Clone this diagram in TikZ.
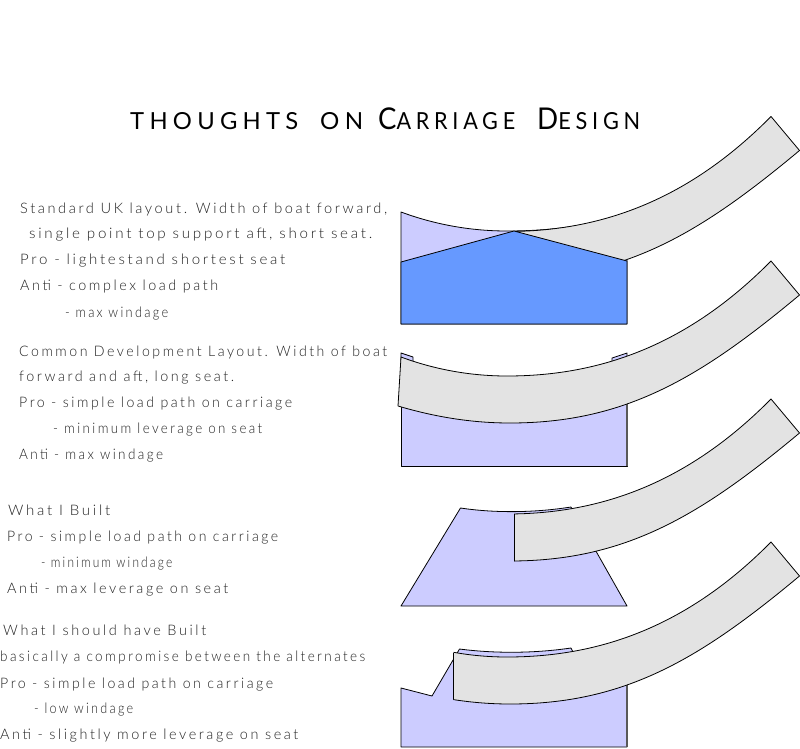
\documentclass[tikz,border=0pt]{standalone}
\usepackage{fontspec}
\setmainfont{Lato}[UprightFont={* Light},LetterSpace=18]
\newfontfamily\titlefont{Lato}[LetterSpace=22]
\definecolor{lav}{HTML}{CCCCFF}
\definecolor{blu}{HTML}{6699FF}
\definecolor{bandgray}{HTML}{E3E3E3}
\definecolor{ink}{HTML}{222222}
\tikzset{
  hand/.style={anchor=base west,inner sep=0pt,text=ink,font=\fontsize{14.5}{16}\selectfont},
  shp/.style={draw=black,line width=0.8pt,line join=round},
  edgegray/.style={draw=black!65,line width=1.1pt},
}
\newcommand{\fw}[2]{\setbox0=\hbox{#2}\pgfmathsetmacro\fwr{#1/\the\wd0}\scalebox{\fwr}[1]{\box0}}
\newcommand{\bandpath}{(401,357) .. controls (436,370) and (472,376) .. (507,376) .. controls (602,376) and (689,344) .. (771,261) -- (799.5,295) .. controls (700,378) and (625,423) .. (510,423) .. controls (472,423) and (435,417) .. (398,406) -- cycle}
\begin{document}
\begin{tikzpicture}[x=1pt,y=-1pt]
\useasboundingbox (0,0) rectangle (800,749);
\fill[white] (0,0) rectangle (800,749);
% shape 1
\draw[shp,fill=lav] (401,212) .. controls (436,225) and (472,231) .. (507,231) .. controls (550,231) and (590,226) .. (627,213) -- (627,324) -- (401,324) -- cycle;
\begin{scope}[yshift=144.5pt]
\clip (514,230) rectangle (810,450);
\draw[shp,fill=bandgray] \bandpath;
\end{scope}
\draw[shp,fill=blu] (401,262) -- (514,231) -- (627,261) -- (627,324) -- (401,324) -- cycle;
% shape 2
\draw[shp,fill=lav] (401,353) -- (413,357) -- (413,362) -- (401,362) -- cycle;
\draw[shp,fill=lav] (612,358) -- (627,353) -- (627,362) -- (612,364) -- cycle;
\draw[shp,fill=lav] (401,400) -- (627,400) -- (627,466) -- (401,466) -- cycle;
\draw[edgegray] (627,400) -- (627,466);
\draw[shp,fill=bandgray] \bandpath;
% shape 3
\draw[shp,fill=lav] (460.5,508) .. controls (490,512.5) and (530,513.5) .. (571,507) -- (627,606) -- (401,606) -- cycle;
\begin{scope}[yshift=-138pt]
\begin{scope}
\clip (514,230) rectangle (810,450);
\draw[shp,fill=bandgray] \bandpath;
\end{scope}
\draw[shp,line cap=round] (514,376.4) -- (514,423);
\end{scope}
% shape 4
\draw[shp,fill=lav] (401,688) -- (432,696) -- (459.5,649) .. controls (490,653) and (530,654) .. (571,648) -- (573,652) -- (627,680) -- (627,747) -- (401,747) -- cycle;
\draw[edgegray] (627,680) -- (627,747);
\begin{scope}[yshift=-281pt]
\begin{scope}
\clip (453.5,230) rectangle (810,450);
\draw[shp,fill=bandgray] \bandpath;
\end{scope}
\draw[shp,line cap=round] (453.5,372) -- (453.5,418.5);
\end{scope}
% title
\node[anchor=base west,inner sep=0pt,text=black,font=\titlefont\fontsize{23.5}{26}\selectfont] (title) at (130,130) {\fw{168}{THOUGHTS}\hspace{22pt}\fw{43}{ON}\hspace{15pt}\fw{137}{{\fontsize{30}{26}\selectfont C}ARRIAGE}\hspace{22pt}\fw{103}{{\fontsize{30}{26}\selectfont D}ESIGN}};
% text block 1
\node[hand] (a1) at (20,213) {\fw{367}{Standard UK layout. Width of boat forward,}};
\node[hand] (a2) at (29,238) {\fw{343}{single point top support aft, short seat.}};
\node[hand] (a3) at (20,264) {\fw{265}{Pro - lightestand shortest seat}};
\node[hand] (a4) at (20,290) {\fw{198}{Anti - complex load path}};
\node[hand] (a5) at (65,317) {\fw{103}{- max windage}};
% text block 2
\node[hand] (b1) at (19,356) {\fw{368}{Common Development Layout. Width of boat}};
\node[hand] (b2) at (19,381) {\fw{215}{forward and aft, long seat.}};
\node[hand] (b3) at (19,407) {\fw{273}{Pro - simple load path on carriage}};
\node[hand] (b4) at (53,433) {\fw{209}{- minimum leverage on seat}};
\node[hand] (b5) at (19,459) {\fw{144}{Anti - max windage}};
% text block 3
\node[hand] (c1) at (8,515) {\fw{102}{What I Built}};
\node[hand] (c2) at (7,541) {\fw{271}{Pro - simple load path on carriage}};
\node[hand] (c3) at (41,567) {\fw{131}{- minimum windage}};
\node[hand] (c4) at (7,593) {\fw{221}{Anti - max leverage on seat}};
% text block 4
\node[hand] (d1) at (3,635) {\fw{203}{What I should have Built}};
\node[hand] (d2) at (0,661) {\fw{365}{basically a compromise between the alternates}};
\node[hand] (d3) at (0,688) {\fw{273}{Pro - simple load path on carriage}};
\node[hand] (d4) at (34,713) {\fw{99}{- low windage}};
\node[hand] (d5) at (0,739) {\fw{298}{Anti - slightly more leverage on seat}};
\end{tikzpicture}
\end{document}
